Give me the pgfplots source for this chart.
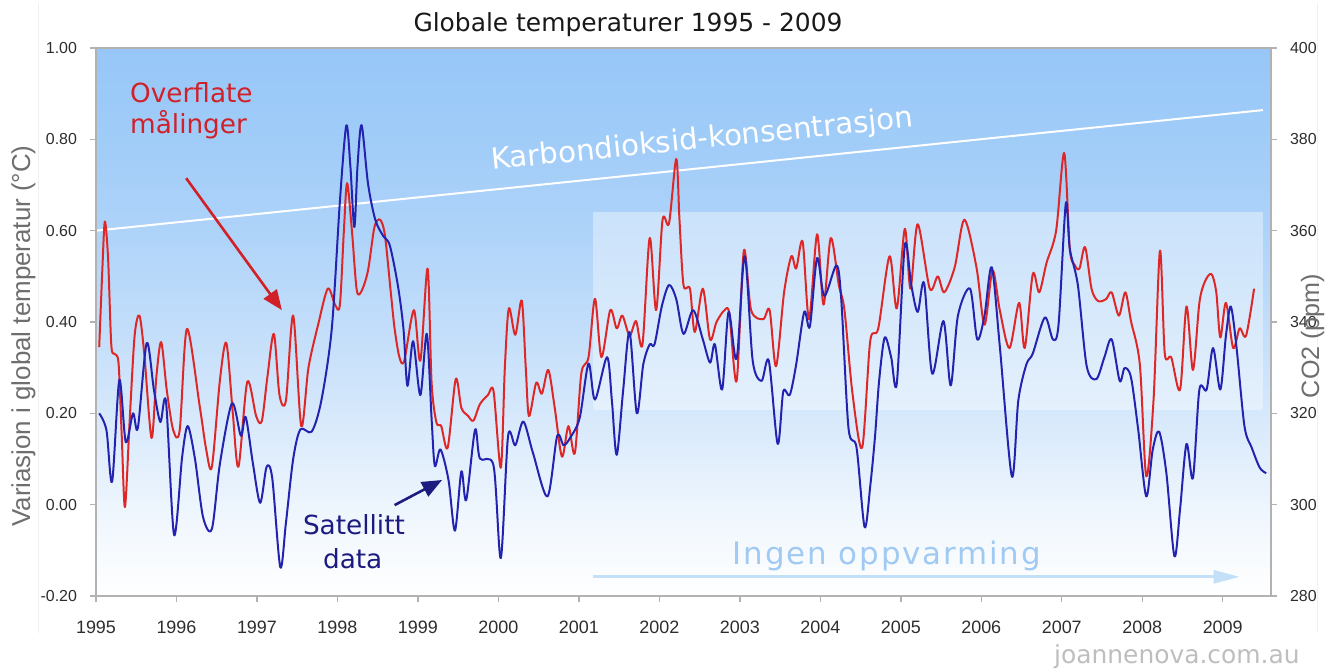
\documentclass[border=0pt]{standalone}
\usepackage{pgfplots}
\pgfplotsset{compat=1.18}
\usepackage{pgfplotstable}
\usepackage{fontspec}
\setmainfont{DejaVu Sans}
\newfontfamily\arialf{Liberation Sans}
\newfontfamily\spacedf[LetterSpace=6]{DejaVu Sans}
\usetikzlibrary{arrows.meta}

\definecolor{bgA}{RGB}{246,250,254}
\definecolor{bgB}{RGB}{237,245,253}
\definecolor{bgC}{RGB}{214,232,251}
\definecolor{bgD}{RGB}{193,221,250}
\definecolor{bgE}{RGB}{174,211,249}
\definecolor{bgF}{RGB}{160,204,248}
\definecolor{bgG}{RGB}{151,199,248}
\definecolor{redline}{RGB}{222,40,40}
\definecolor{blueline}{RGB}{35,35,175}
\definecolor{redtext}{RGB}{208,32,40}
\definecolor{navytext}{RGB}{28,28,128}
\definecolor{axgrey}{RGB}{178,178,178}
\definecolor{labgrey}{RGB}{110,110,110}
\definecolor{ticktext}{RGB}{45,45,45}
\definecolor{ingentext}{RGB}{160,202,242}
\definecolor{ingenarrow}{RGB}{196,224,248}
\definecolor{wmgrey}{RGB}{190,190,190}

\pgfdeclareverticalshading{bgshade}{100bp}{color(0bp)=(white); color(25bp)=(white); color(29.2bp)=(bgA); color(33.3bp)=(bgB); color(41.7bp)=(bgC); color(50bp)=(bgD); color(58.3bp)=(bgE); color(66.7bp)=(bgF); color(75bp)=(bgG); color(100bp)=(bgG)}

% Surface measurements (red)
\pgfplotstableread{
year value
1995.04 0.345
1995.08 0.52
1995.11 0.62
1995.15 0.54
1995.19 0.35
1995.23 0.33
1995.28 0.31
1995.32 0.15
1995.36 -0.005
1995.42 0.19
1995.48 0.37
1995.54 0.414
1995.60 0.33
1995.69 0.146
1995.75 0.28
1995.81 0.356
1995.88 0.25
1995.96 0.163
1996.04 0.163
1996.13 0.385
1996.29 0.214
1996.37 0.12
1996.44 0.083
1996.54 0.273
1996.62 0.354
1996.70 0.20
1996.77 0.083
1996.88 0.269
1996.99 0.194
1997.06 0.183
1997.13 0.28
1997.21 0.374
1997.28 0.24
1997.36 0.228
1997.45 0.414
1997.55 0.172
1997.64 0.300
1997.76 0.394
1997.88 0.473
1997.97 0.438
1998.03 0.437
1998.08 0.60
1998.12 0.704
1998.18 0.60
1998.24 0.47
1998.30 0.468
1998.38 0.513
1998.46 0.608
1998.53 0.624
1998.59 0.59
1998.66 0.47
1998.71 0.386
1998.77 0.323
1998.83 0.315
1998.95 0.426
1999.03 0.315
1999.12 0.517
1999.17 0.267
1999.23 0.18
1999.29 0.172
1999.37 0.125
1999.47 0.275
1999.54 0.212
1999.62 0.195
1999.69 0.184
1999.77 0.22
1999.87 0.24
1999.94 0.248
2000.03 0.081
2000.08 0.30
2000.13 0.43
2000.21 0.372
2000.29 0.447
2000.34 0.30
2000.38 0.194
2000.47 0.267
2000.54 0.243
2000.62 0.295
2000.70 0.212
2000.79 0.105
2000.87 0.172
2000.95 0.113
2001.03 0.287
2001.12 0.323
2001.20 0.451
2001.28 0.323
2001.39 0.426
2001.47 0.386
2001.54 0.414
2001.63 0.37
2001.71 0.402
2001.79 0.351
2001.88 0.584
2001.96 0.426
2002.04 0.624
2002.12 0.616
2002.21 0.757
2002.25 0.624
2002.30 0.481
2002.38 0.473
2002.44 0.378
2002.54 0.473
2002.63 0.362
2002.71 0.40
2002.81 0.426
2002.87 0.418
2002.96 0.271
2003.05 0.556
2003.14 0.426
2003.29 0.406
2003.37 0.426
2003.45 0.303
2003.55 0.465
2003.64 0.544
2003.70 0.517
2003.78 0.576
2003.86 0.406
2003.96 0.592
2004.04 0.438
2004.13 0.584
2004.23 0.481
2004.30 0.426
2004.40 0.243
2004.52 0.125
2004.62 0.358
2004.72 0.386
2004.86 0.544
2004.95 0.43
2005.05 0.604
2005.12 0.473
2005.21 0.614
2005.36 0.473
2005.46 0.50
2005.54 0.465
2005.67 0.52
2005.79 0.624
2005.94 0.52
2006.04 0.394
2006.14 0.513
2006.23 0.426
2006.35 0.343
2006.47 0.442
2006.54 0.343
2006.64 0.505
2006.72 0.465
2006.81 0.529
2006.93 0.60
2007.03 0.77
2007.10 0.56
2007.16 0.525
2007.22 0.517
2007.29 0.564
2007.37 0.473
2007.45 0.446
2007.55 0.45
2007.62 0.465
2007.71 0.414
2007.79 0.465
2007.86 0.402
2007.97 0.307
2008.05 0.062
2008.14 0.228
2008.22 0.556
2008.28 0.331
2008.36 0.323
2008.47 0.252
2008.55 0.434
2008.63 0.295
2008.71 0.442
2008.78 0.489
2008.86 0.505
2008.92 0.465
2008.97 0.366
2009.04 0.442
2009.13 0.343
2009.21 0.386
2009.29 0.37
2009.39 0.473
}\redtab

% Satellite data (blue)
\pgfplotstableread{
year value
1995.04 0.20
1995.13 0.163
1995.20 0.05
1995.29 0.273
1995.37 0.137
1995.46 0.20
1995.52 0.168
1995.63 0.354
1995.72 0.251
1995.80 0.181
1995.87 0.225
1995.97 -0.066
1996.07 0.104
1996.14 0.172
1996.23 0.10
1996.33 -0.027
1996.44 -0.053
1996.54 0.09
1996.69 0.222
1996.80 0.151
1996.86 0.192
1996.95 0.09
1997.04 0.004
1997.12 0.083
1997.19 0.058
1997.29 -0.137
1997.36 -0.04
1997.45 0.10
1997.54 0.165
1997.68 0.16
1997.80 0.228
1997.93 0.386
1998.03 0.663
1998.11 0.83
1998.16 0.743
1998.21 0.608
1998.25 0.743
1998.30 0.831
1998.38 0.703
1998.47 0.624
1998.57 0.588
1998.65 0.568
1998.75 0.481
1998.82 0.386
1998.87 0.26
1998.94 0.358
1999.03 0.24
1999.11 0.374
1999.17 0.188
1999.21 0.085
1999.28 0.121
1999.38 0.054
1999.46 -0.057
1999.54 0.073
1999.60 0.01
1999.71 0.164
1999.77 0.101
1999.94 0.085
2000.03 -0.117
2000.12 0.15
2000.21 0.13
2000.31 0.182
2000.43 0.113
2000.61 0.018
2000.73 0.15
2000.81 0.13
2000.89 0.146
2001.01 0.19
2001.12 0.309
2001.20 0.23
2001.35 0.323
2001.41 0.228
2001.47 0.109
2001.55 0.25
2001.63 0.378
2001.72 0.20
2001.80 0.307
2001.88 0.351
2001.94 0.351
2002.03 0.434
2002.12 0.481
2002.21 0.45
2002.30 0.374
2002.42 0.426
2002.54 0.362
2002.63 0.311
2002.69 0.351
2002.78 0.252
2002.86 0.422
2002.96 0.319
2003.06 0.544
2003.16 0.315
2003.27 0.271
2003.36 0.315
2003.47 0.133
2003.54 0.248
2003.62 0.24
2003.70 0.307
2003.80 0.422
2003.87 0.39
2003.96 0.54
2004.05 0.457
2004.20 0.524
2004.26 0.45
2004.35 0.168
2004.45 0.125
2004.55 -0.049
2004.62 0.04
2004.68 0.15
2004.73 0.27
2004.80 0.366
2004.88 0.323
2004.95 0.265
2005.05 0.568
2005.13 0.481
2005.21 0.422
2005.29 0.485
2005.39 0.287
2005.53 0.402
2005.62 0.261
2005.71 0.414
2005.86 0.473
2005.95 0.362
2006.04 0.414
2006.13 0.52
2006.23 0.347
2006.38 0.062
2006.46 0.228
2006.56 0.307
2006.64 0.331
2006.79 0.41
2006.89 0.362
2006.96 0.394
2007.05 0.659
2007.10 0.56
2007.20 0.481
2007.31 0.303
2007.43 0.275
2007.53 0.323
2007.62 0.362
2007.72 0.271
2007.78 0.299
2007.86 0.279
2007.95 0.164
2008.05 0.018
2008.13 0.12
2008.21 0.16
2008.30 0.069
2008.40 -0.113
2008.47 -0.01
2008.55 0.133
2008.63 0.058
2008.71 0.252
2008.80 0.252
2008.88 0.343
2008.97 0.252
2009.04 0.37
2009.10 0.434
2009.17 0.347
2009.27 0.172
2009.36 0.125
2009.46 0.081
2009.54 0.069
}\bluetab

\pgfplotsset{
  base/.style={
    at={(48bp,36.5bp)}, anchor=south west,
    scale only axis, width=587.5bp, height=274bp,
    xmin=1995, xmax=2009.6,
    axis line style={draw=axgrey, line width=0.9bp},
    tick style={draw=axgrey, line width=0.7bp},
    tick align=outside, major tick length=3bp,
    every tick label/.append style={text=ticktext},
    /pgf/number format/assume math mode=true,
  }
}

\begin{document}
\begin{tikzpicture}
\useasboundingbox (0,0) rectangle (666bp,334.5bp);
\draw[gray!12, line width=0.5bp] (19bp,18bp) -- (19bp,333bp);
\draw[gray!12, line width=0.5bp] (658.5bp,18bp) -- (658.5bp,333bp);

% right axis (CO2) with background
\begin{axis}[base,
  ymin=280, ymax=400, hide x axis,
  ytick={280,300,...,400}, ytick pos=right, yticklabel pos=right,
  yticklabel style={font=\arialf\fontsize{8}{9}\selectfont, xshift=3bp},
]
\shade[shading=bgshade] (rel axis cs:0,0) rectangle (rel axis cs:1,1);
\addplot[white, line width=1bp] coordinates {(1995,360) (2009.5,386.4)};
\end{axis}

% left axis (temperature)
\begin{axis}[base,
  ymin=-0.2, ymax=1.0,
  ytick={-0.2,0,0.2,0.4,0.6,0.8,1.0},
  xtick={1995,1996,...,2009},
  ytick pos=left, xtick pos=bottom,
  clip=false,
  xticklabel style={font=\arialf\fontsize{9}{10}\selectfont, yshift=-6bp, /pgf/number format/1000 sep={}},
  yticklabel style={font=\arialf\fontsize{8}{9}\selectfont, xshift=-3bp,
    /pgf/number format/fixed, /pgf/number format/fixed zerofill, /pgf/number format/precision=2},
]
\fill[white, fill opacity=0.38] (axis cs:2001.17,0.207) rectangle (axis cs:2009.5,0.64);

\addplot[redline, line width=1bp, smooth, line join=round] table[x=year,y=value] {\redtab};
\addplot[blueline, line width=1bp, smooth, line join=round] table[x=year,y=value] {\bluetab};

% annotations
\node[anchor=base west, text=redtext, font=\fontsize{13.2}{15}\selectfont, inner sep=0pt] at (axis cs:1995.42,0.880) {Overflate};
\node[anchor=base west, text=redtext, font=\fontsize{13.2}{15}\selectfont, inner sep=0pt] at (axis cs:1995.42,0.812) {målinger};
\draw[redtext, line width=1.3bp, -{Triangle[length=10bp,width=8bp]}] (axis cs:1996.12,0.715) -- (axis cs:1997.31,0.426);

\node[anchor=base, text=navytext, font=\fontsize{13.2}{15}\selectfont, inner sep=0pt] at (axis cs:1998.205,-0.066) {Satellitt};
\node[anchor=base, text=navytext, font=\fontsize{13.2}{15}\selectfont, inner sep=0pt] at (axis cs:1998.19,-0.139) {data};
\draw[navytext, line width=1.3bp, -{Triangle[length=10bp,width=8bp]}] (axis cs:1998.71,-0.001) -- (axis cs:1999.30,0.054);

\node[anchor=base west, text=white, font=\fontsize{14.7}{16}\selectfont, inner sep=0pt, rotate=5.8] at (axis cs:1999.92,0.733) {Karbondioksid-konsentrasjon};

\node[anchor=base west, text=ingentext, font=\spacedf\fontsize{15.5}{17}\selectfont, inner sep=0pt] at (axis cs:2002.91,-0.132) {Ingen oppvarming};
\draw[ingenarrow, line width=1.4bp, -{Triangle[length=13bp,width=6.5bp]}] (axis cs:2001.17,-0.158) -- (axis cs:2009.21,-0.158);
\end{axis}

% title, axis labels, watermark
\node[anchor=base, font=\fontsize{12.5}{14}\selectfont, text=black!90, inner sep=0pt] at (314bp,318.5bp) {Globale temperaturer 1995 - 2009};
\node[anchor=base, rotate=90, font=\arialf\fontsize{13}{15}\selectfont, text=labgrey, inner sep=0pt] at (15bp,166.5bp) {Variasjon i global temperatur (°C)};
\node[anchor=base, rotate=90, font=\arialf\fontsize{12.6}{15}\selectfont, text=labgrey, inner sep=0pt] at (659.5bp,166.5bp) {CO2 (ppm)};
\node[anchor=base east, font=\fontsize{12.5}{14}\selectfont, text=wmgrey, inner sep=0pt] at (650bp,3bp) {joannenova.com.au};
\end{tikzpicture}
\end{document}
